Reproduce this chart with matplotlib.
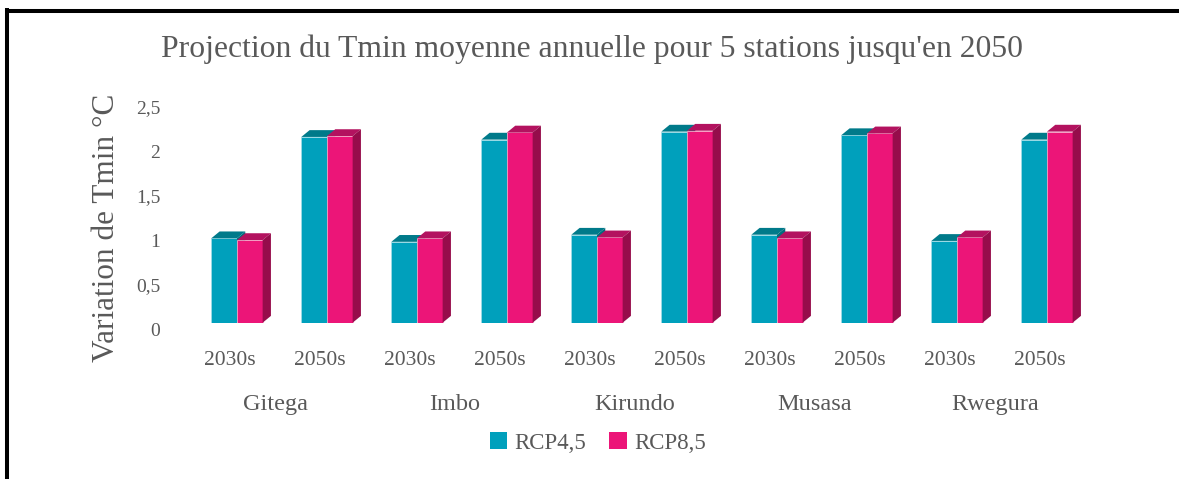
import matplotlib
matplotlib.use("Agg")
import matplotlib.pyplot as plt
from matplotlib.patches import Polygon, Patch, Rectangle
from matplotlib.transforms import ScaledTranslation, blended_transform_factory

# ---- data ----
stations = ["Gitega", "Imbo", "Kirundo", "Musasa", "Rwegura"]
periods = ["2030s", "2050s"]
rcp45 = [0.95, 2.09, 0.91, 2.06, 0.99, 2.15, 0.99, 2.11, 0.92, 2.06]
rcp85 = [0.93, 2.10, 0.95, 2.14, 0.96, 2.16, 0.95, 2.13, 0.96, 2.15]
yticks = [0, 0.5, 1, 1.5, 2, 2.5]
ytick_labels = ["0", "0,5", "1", "1,5", "2", "2,5"]
series_names = ["RCP4,5", "RCP8,5"]

title = "Projection du Tmin moyenne annuelle pour 5 stations jusqu'en 2050"
ylabel = "Variation de Tmin °C"

# ---- style ----
FONT = "Liberation Serif"
TXT = "#595959"
teal_front, teal_top, teal_side = "#00A0BC", "#007A8A", "#006E7E"
pink_front, pink_top, pink_side = "#EC1578", "#B3125F", "#960C4B"

W, H = 1179, 479
fig = plt.figure(figsize=(W / 100, H / 100), dpi=100)

# axes placement in pixels
x_left_px, x_right_px = 174, 1110
y_base_px, y_top_px = 322.7, 91.6
ax = fig.add_axes([x_left_px / W, 1 - y_base_px / H,
                   (x_right_px - x_left_px) / W, (y_base_px - y_top_px) / H])
ax.set_xlim(-0.7, 9.7)
ax.set_ylim(0, 2.6)
for s in ax.spines.values():
    s.set_visible(False)
ax.patch.set_alpha(0)

n = len(rcp45)
pos = list(range(n))
bw = 0.285
dx, dy = 0.092, 0.0765

def bar3d(x0, v, front, top, side, edge):
    x1 = x0 + bw
    ax.add_patch(Rectangle((x0, 0), bw, v, facecolor=front, edgecolor=edge, lw=0.6, zorder=3))
    ax.add_patch(Polygon([(x0, v), (x0 + dx, v + dy), (x1 + dx, v + dy), (x1, v)],
                         closed=True, facecolor=top, edgecolor="none", zorder=3, clip_on=False))
    ax.add_patch(Polygon([(x1, 0), (x1 + dx, dy), (x1 + dx, v + dy), (x1, v)],
                         closed=True, facecolor=side, edgecolor="none", zorder=3, clip_on=False))

for i in pos:
    bar3d(i - bw, rcp45[i], teal_front, teal_top, teal_side, "#9fdbe6")
    bar3d(i, rcp85[i], pink_front, pink_top, pink_side, "#f6a8c8")

# y ticks
ax.set_yticks(yticks)
ax.set_yticklabels(ytick_labels, fontsize=14, color=TXT, family=FONT)
ax.tick_params(axis="y", length=0, pad=10)
off = ScaledTranslation(0, -6.5 / 100, fig.dpi_scale_trans)
for lab in ax.get_yticklabels():
    lab.set_transform(lab.get_transform() + off)

# x labels (period + station)
ax.set_xticks([])
trans = blended_transform_factory(ax.transData, ax.transAxes)
xoff = ScaledTranslation(-7 / 100, 0, fig.dpi_scale_trans)
for i in pos:
    ax.text(i, -0.165, periods[i % 2], transform=trans + xoff, ha="center", va="center",
            fontsize=15.5, color=TXT, family=FONT)
for k, st in enumerate(stations):
    ax.text(2 * k + 0.5, -0.355, st, transform=trans + xoff, ha="center", va="center",
            fontsize=17.5, color=TXT, family=FONT)

# title and y label
fig.text(592 / W, 1 - 49 / H, title, ha="center", va="center", fontsize=22.8, color=TXT, family=FONT)
fig.text(107 / W, 1 - 228 / H, ylabel, ha="center", va="center", rotation=90,
         fontsize=22.5, color=TXT, family=FONT)

# legend
handles = [Patch(facecolor=teal_front), Patch(facecolor=pink_front)]
leg = fig.legend(handles, series_names, loc="center", bbox_to_anchor=(598 / W, 1 - 443 / H),
                 ncol=2, frameon=False, handlelength=0.75, handleheight=0.75,
                 handletextpad=0.35, columnspacing=1.0,
                 prop={"family": FONT, "size": 16.5})
for t in leg.get_texts():
    t.set_color(TXT)

# frame lines (left and top)
fig.add_artist(plt.Line2D([7 / W, 7 / W], [0, 1 - 8.3 / H], transform=fig.transFigure,
                          color="black", lw=2.9, solid_capstyle="butt"))
fig.add_artist(plt.Line2D([5 / W, 1], [1 - 10.5 / H, 1 - 10.5 / H], transform=fig.transFigure,
                          color="black", lw=2.9, solid_capstyle="butt"))

fig.savefig("out.png", dpi=100, facecolor="white")
